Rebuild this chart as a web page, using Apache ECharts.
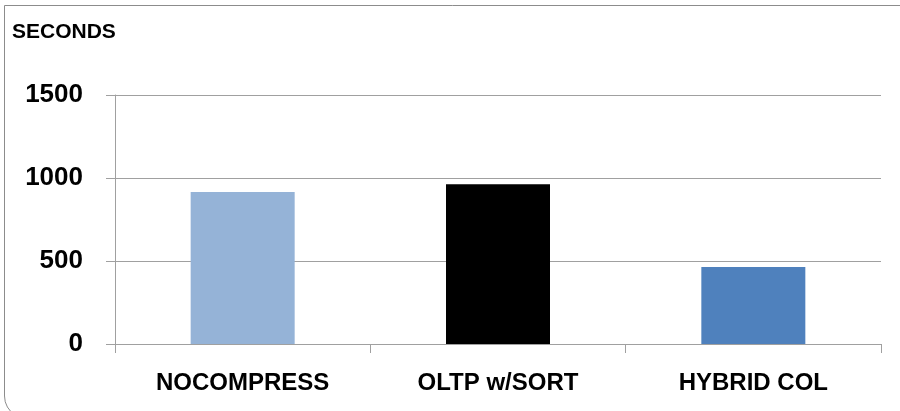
<!DOCTYPE html>
<html>
<head>
<meta charset="utf-8">
<style>
  html, body { margin: 0; padding: 0; background: #fff; }
  #chart { width: 900px; height: 411px; }
</style>
<script src="https://cdn.jsdelivr.net/npm/echarts@6/dist/echarts.min.js"></script>
</head>
<body>
<div id="chart"></div>
<script>
// Query runtime per storage format
const categories = ['NOCOMPRESS', 'OLTP w/SORT', 'HYBRID COL'];
const seconds = [915, 962, 464];
const barColors = ['#95B3D7', '#000000', '#4F81BD'];
const yTicks = { min: 0, max: 1500, interval: 500 };
const yTitle = 'SECONDS';

const FONT = '"Liberation Sans", Arial, sans-serif';
const GRID_GRAY = '#A0A0A0';
const FRAME_GRAY = '#8C8C8C';

const chart = echarts.init(document.getElementById('chart'), null, { renderer: 'canvas' });

chart.setOption({
  animation: false,
  backgroundColor: '#ffffff',
  grid: { left: 115, right: 19, top: 95, bottom: 67, containLabel: false },
  graphic: [
    // outer chart frame: left and top edges, rounded lower-left corner
    {
      type: 'polyline',
      shape: { points: [[4.5, 396], [4.5, 5.5], [905, 5.5]] },
      style: { stroke: FRAME_GRAY, lineWidth: 1, fill: 'none' },
      silent: true
    },
    {
      type: 'bezierCurve',
      shape: { x1: 4.5, y1: 396, cpx1: 4.5, cpy1: 408, x2: 16, y2: 416 },
      style: { stroke: FRAME_GRAY, lineWidth: 1, fill: 'none' },
      silent: true
    },
    {
      type: 'text',
      left: 12,
      top: 22,
      style: {
        text: yTitle,
        font: 'bold 21px ' + FONT,
        fill: '#000'
      }
    }
  ],
  xAxis: {
    type: 'category',
    data: categories,
    axisLine: { show: true, lineStyle: { color: GRID_GRAY, width: 1 } },
    axisTick: { show: true, length: 9, alignWithLabel: false, lineStyle: { color: GRID_GRAY } },
    axisLabel: {
      color: '#000',
      fontFamily: FONT,
      fontWeight: 'bold',
      fontSize: 24,
      margin: 27
    },
    splitLine: { show: false }
  },
  yAxis: {
    type: 'value',
    min: yTicks.min,
    max: yTicks.max,
    interval: yTicks.interval,
    axisLine: { show: true, lineStyle: { color: GRID_GRAY, width: 1 } },
    axisTick: { show: true, length: 9, lineStyle: { color: GRID_GRAY } },
    axisLabel: {
      color: '#000',
      fontFamily: FONT,
      fontWeight: 'bold',
      fontSize: 26,
      margin: 32,
      formatter: (v) => String(v)
    },
    splitLine: { show: true, lineStyle: { color: GRID_GRAY, width: 1 } }
  },
  series: [
    {
      type: 'bar',
      data: seconds.map((v, i) => ({ value: v, itemStyle: { color: barColors[i] } })),
      barWidth: 104
    }
  ]
});
</script>
</body>
</html>
